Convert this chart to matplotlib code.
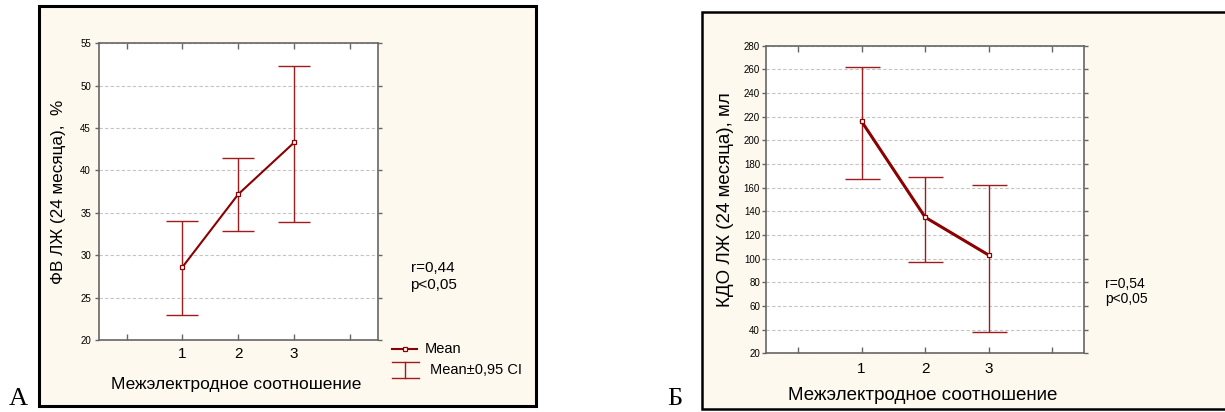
import matplotlib.pyplot as plt
from matplotlib.patches import Rectangle
from matplotlib.lines import Line2D

# --- data ---
groups = [1, 2, 3]

ef_mean = [28.6, 37.2, 43.3]
ef_low = [22.9, 32.8, 33.9]
ef_high = [34.0, 41.5, 52.3]

edv_mean = [216, 135, 103]
edv_low = [167, 97, 38]
edv_high = [262, 169, 162]

ef_ticks = [20, 25, 30, 35, 40, 45, 50, 55]
edv_ticks = list(range(20, 281, 20))

W, H = 1225, 412
CREAM = '#fef9ee'
LINE = '#8b0000'
BAR = '#a01c1c'
SPINE = '#666666'
GRID = '#c4c4c4'
SANS = 'Liberation Sans'

plt.rcParams['font.family'] = [SANS, 'DejaVu Sans']


def fx(px):
    return px / W


def fy(py):
    return 1 - py / H


fig = plt.figure(figsize=(W / 100, H / 100), dpi=100)
fig.patch.set_facecolor('white')

# cream frames behind each chart
fig.add_artist(Rectangle((fx(38.5), fy(405.5)), fx(536) - fx(38.5), fy(6) - fy(405.5),
                         transform=fig.transFigure, facecolor=CREAM, edgecolor='black',
                         linewidth=2.2, zorder=-10))
fig.add_artist(Rectangle((fx(701.5), fy(409)), fx(1240) - fx(701.5), fy(11.5) - fy(409),
                         transform=fig.transFigure, facecolor=CREAM, edgecolor='black',
                         linewidth=1.8, zorder=-10))


def make_axes(box, yticks, ylim, tick_pad_x, tick_pad_y):
    l, r, t, b = box
    ax = fig.add_axes([fx(l), fy(b), fx(r) - fx(l), fy(t) - fy(b)])
    ax.set_facecolor('white')
    ax.set_xlim(-0.5, 4.5)
    ax.set_ylim(*ylim)
    ax.set_xticks([0, 1, 2, 3, 4])
    ax.set_xticklabels(['', '1', '2', '3', ''])
    ax.set_yticks(yticks)
    ax.tick_params(axis='x', direction='in', top=True, length=4, width=1,
                   color=SPINE, labelsize=11, pad=tick_pad_x)
    ax.tick_params(axis='y', direction='out', right=True, length=3, width=1,
                   color=SPINE, labelsize=7, pad=tick_pad_y)
    for s in ax.spines.values():
        s.set_color(SPINE)
        s.set_linewidth(1.2)
    ax.yaxis.grid(True, color=GRID, linestyle=(0, (3, 2)), linewidth=0.8)
    ax.set_axisbelow(True)
    return ax


def draw_series(ax, mean, low, high, lw, cap):
    yerr = [[m - lo for m, lo in zip(mean, low)], [hi - m for m, hi in zip(mean, high)]]
    ax.errorbar(groups, mean, yerr=yerr, fmt='none', ecolor=BAR, elinewidth=1.0,
                capsize=cap, capthick=1.0, zorder=3)
    ax.plot(groups, mean, color=LINE, linewidth=lw, marker='s', markersize=3.5,
            markerfacecolor='white', markeredgecolor=LINE, markeredgewidth=0.9, zorder=4)


# ---- panel A ----
axA = make_axes((98.6, 378, 43.3, 340), ef_ticks, (20, 55), 5, 2.5)
draw_series(axA, ef_mean, ef_low, ef_high, 1.5, 11.5)

fig.text(fx(59), fy(191.5), 'ФВ ЛЖ (24 месяца),  %', rotation=90, ha='center', va='center',
         fontsize=12.3)
fig.text(fx(236.6), fy(385), 'Межэлектродное соотношение', ha='center', va='center',
         fontsize=12.5)
fig.text(fx(410.5), fy(276.5), 'r=0,44\np<0,05', ha='left', va='center', fontsize=11,
         linespacing=1.35)
fig.text(fx(18), fy(405), 'А', ha='center', va='baseline', fontsize=19,
         family='Liberation Serif')

# legend glyphs
fig.add_artist(Line2D([fx(392), fx(417)], [fy(349), fy(349)], transform=fig.transFigure,
                      color=LINE, linewidth=1.5))
fig.add_artist(Line2D([fx(404.5)], [fy(349)], transform=fig.transFigure, linestyle='none',
                      marker='s', markersize=3.5, markerfacecolor='white',
                      markeredgecolor=LINE, markeredgewidth=0.9))
for yy in (362, 378):
    fig.add_artist(Line2D([fx(392), fx(418.5)], [fy(yy), fy(yy)], transform=fig.transFigure,
                          color=BAR, linewidth=1.0))
fig.add_artist(Line2D([fx(405), fx(405)], [fy(362), fy(378)], transform=fig.transFigure,
                      color=BAR, linewidth=1.0))
fig.text(fx(425), fy(349), 'Mean', ha='left', va='center', fontsize=10.5)
fig.text(fx(430), fy(369.5), 'Mean±0,95 CI', ha='left', va='center', fontsize=10.5)

# ---- panel Б ----
axB = make_axes((766.3, 1084, 45.7, 353.3), edv_ticks, (20, 280), 6, 1.5)
draw_series(axB, edv_mean, edv_low, edv_high, 2.2, 12.6)

fig.text(fx(725), fy(200), 'КДО ЛЖ (24 месяца), мл', rotation=90, ha='center', va='center',
         fontsize=13.5)
fig.text(fx(923), fy(395), 'Межэлектродное соотношение', ha='center', va='center',
         fontsize=13.5)
fig.text(fx(1105), fy(291.5), 'r=0,54\np<0,05', ha='left', va='center', fontsize=10,
         linespacing=1.15)
fig.text(fx(675), fy(405), 'Б', ha='center', va='baseline', fontsize=19,
         family='Liberation Serif')

fig.savefig('out.png', dpi=100)
